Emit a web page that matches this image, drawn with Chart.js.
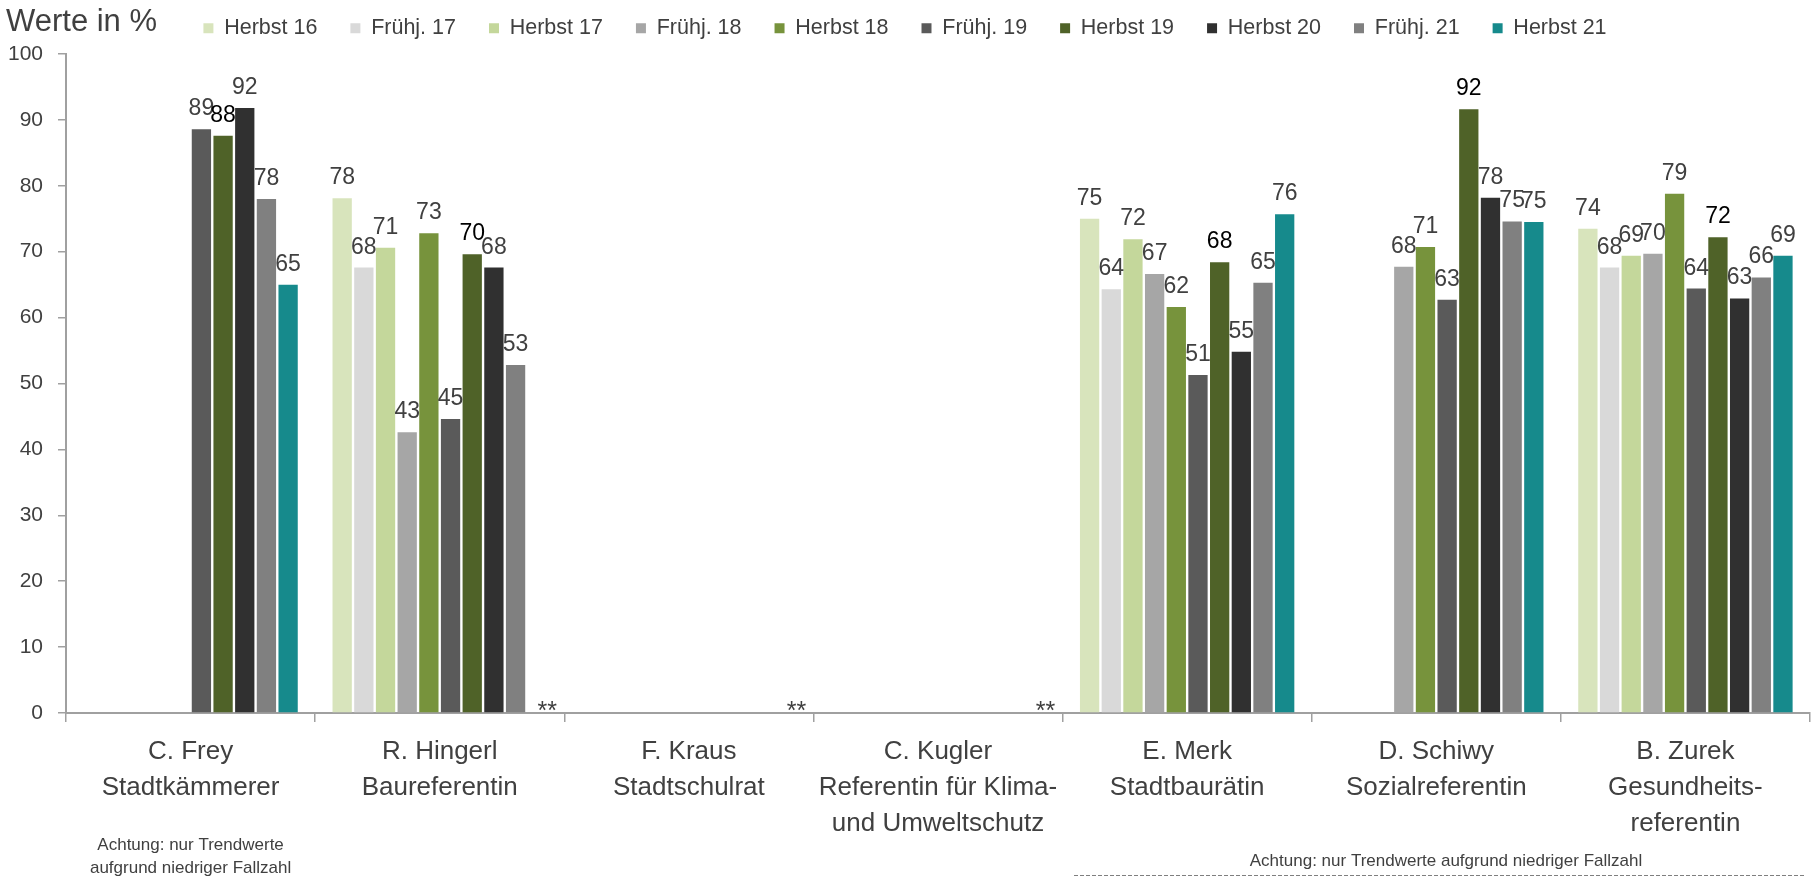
<!DOCTYPE html>
<html>
<head>
<meta charset="utf-8">
<title>Bekanntheit Referentinnen und Referenten</title>
<script src="https://cdn.jsdelivr.net/npm/chart.js@4.4.1/dist/chart.umd.min.js"></script>
<style>
    html, body { margin: 0; padding: 0; background: #fff; }
    #wrap { position: relative; width: 1816px; height: 879px; }
</style>
</head>
<body>
<div id="wrap"><canvas id="chart"></canvas></div>
<script>
// ---- Data ------------------------------------------------------------
const categories = [
    ['C. Frey', 'Stadtkämmerer'],
    ['R. Hingerl', 'Baureferentin'],
    ['F. Kraus', 'Stadtschulrat'],
    ['C. Kugler', 'Referentin für Klima-', 'und Umweltschutz'],
    ['E. Merk', 'Stadtbaurätin'],
    ['D. Schiwy', 'Sozialreferentin'],
    ['B. Zurek', 'Gesundheits-', 'referentin']
];

const seriesNames = ['Herbst 16', 'Frühj. 17', 'Herbst 17', 'Frühj. 18', 'Herbst 18',
    'Frühj. 19', 'Herbst 19', 'Herbst 20', 'Frühj. 21', 'Herbst 21'];
const seriesColors = ['#d8e4bc', '#d9d9d9', '#c4d79b', '#a6a6a6', '#77933c',
    '#5a5a5a', '#4f6228', '#303030', '#808080', '#168a8c'];

// one array per survey wave, one value per person (null = no bar)
const herbst16 = [null, 78.1, null, null, 75.0, null, 73.5];
const fruehj17 = [null, 67.6, null, null, 64.3, null, 67.6];
const herbst17 = [null, 70.6, null, null, 71.9, null, 69.4];
const fruehj18 = [null, 42.6, null, null, 66.6, 67.7, 69.7];
const herbst18 = [null, 72.8, null, null, 61.6, 70.7, 78.8];
const fruehj19 = [88.6, 44.6, null, null, 51.3, 62.7, 64.4];
const herbst19 = [87.6, 69.6, null, null, 68.4, 91.6, 72.2];
const herbst20 = [91.8, 67.6, null, null, 54.8, 78.2, 62.9];
const fruehj21 = [78.0, 52.8, null, null, 65.3, 74.6, 66.1];
const herbst21 = [65.0, null, null, null, 75.7, 74.5, 69.4];

const seriesValues = [herbst16, fruehj17, herbst17, fruehj18, herbst18,
    fruehj19, herbst19, herbst20, fruehj21, herbst21];

const yMin = 0;
const yMax = 100;
const yStep = 10;

const axisTitle = 'Werte in %';
const noDataMark = '**';
const noDataCategories = [1, 2, 3];
const noteLeft = ['Achtung: nur Trendwerte', 'aufgrund niedriger Fallzahl'];
const noteRight = 'Achtung: nur Trendwerte aufgrund niedriger Fallzahl';

// ---- Styling -----------------------------------------------------------
const FONT = "'Liberation Sans', Arial, sans-serif";
const TEXT = '#404040';
const AXIS = '#a0a0a0';

Chart.defaults.font.family = FONT;
Chart.defaults.color = TEXT;

// Data labels above each bar (rounded like the source)
const valueLabels = {
    id: 'valueLabels',
    afterDatasetsDraw(chart) {
        const ctx = chart.ctx;
        ctx.save();
        ctx.font = `23px ${FONT}`;
        ctx.textAlign = 'center';
        ctx.textBaseline = 'alphabetic';
        chart.data.datasets.forEach((ds, di) => {
            const meta = chart.getDatasetMeta(di);
            ctx.fillStyle = seriesNames[di] === 'Herbst 19' ? '#000' : TEXT;
            meta.data.forEach((bar, i) => {
                const v = ds.data[i];
                if (v === null || v === undefined) return;
                ctx.fillText(String(Math.round(v)), bar.x, bar.y - 14);
            });
        });
        ctx.restore();
    }
};

// Axis title, "**" markers, footnotes
const chartNotes = {
    id: 'chartNotes',
    afterDraw(chart) {
        const ctx = chart.ctx;
        const x = chart.scales.x;
        const y = chart.scales.y;
        const catW = x.width / categories.length;
        ctx.save();
        ctx.fillStyle = TEXT;
        ctx.textBaseline = 'middle';
        ctx.textAlign = 'left';
        ctx.font = `31px ${FONT}`;
        ctx.fillText(axisTitle, 6, 22);

        ctx.textBaseline = 'alphabetic';
        ctx.textAlign = 'center';
        ctx.font = `25px ${FONT}`;
        noDataCategories.forEach(i => {
            ctx.fillText(noDataMark, x.getPixelForValue(i) + catW / 2 - 17, y.getPixelForValue(0) + 6);
        });

        ctx.font = `17px ${FONT}`;
        const c0 = x.getPixelForValue(0);
        ctx.fillText(noteLeft[0], c0, 850);
        ctx.fillText(noteLeft[1], c0, 873);
        ctx.fillText(noteRight, 1446, 866);

        ctx.strokeStyle = '#7f7f7f';
        ctx.lineWidth = 1;
        ctx.setLineDash([4, 2]);
        ctx.beginPath();
        ctx.moveTo(1074, 875.5);
        ctx.lineTo(1806, 875.5);
        ctx.stroke();
        ctx.restore();
    }
};

// a little extra room between legend and plot
const legendGap = {
    id: 'legendGap',
    beforeInit(chart) {
        const fit = chart.legend.fit;
        chart.legend.fit = function () { fit.call(this); this.height += 5; };
    }
};

new Chart(document.getElementById('chart'), {
    type: 'bar',
    data: {
        labels: categories,
        datasets: seriesNames.map((name, i) => ({
            label: name,
            data: seriesValues[i],
            backgroundColor: seriesColors[i],
            borderWidth: 0,
            categoryPercentage: 0.87,
            barPercentage: 0.89
        }))
    },
    options: {
        responsive: true,
        maintainAspectRatio: false,
        animation: false,
        devicePixelRatio: 1,
        layout: { padding: { top: -15.5, left: 0, right: 6, bottom: 0 } },
        plugins: {
            legend: {
                position: 'top',
                align: 'center',
                labels: {
                    boxWidth: 10, boxHeight: 10, padding: 33,
                    color: TEXT, font: { size: 21.5 }
                }
            },
            tooltip: { enabled: false }
        },
        scales: {
            x: {
                grid: { offset: true, drawOnChartArea: false, tickLength: 9, color: AXIS, lineWidth: 1.5 },
                border: { color: AXIS, width: 2 },
                ticks: { color: TEXT, font: { size: 26, lineHeight: 1.38 }, padding: 12, maxRotation: 0, autoSkip: false },
                afterFit: s => { s.height = 166; }
            },
            y: {
                min: yMin, max: yMax,
                grid: { drawOnChartArea: false, tickLength: 8, color: AXIS, lineWidth: 1.5 },
                border: { color: AXIS, width: 2 },
                ticks: { stepSize: yStep, color: TEXT, font: { size: 21 }, padding: 15 },
                afterFit: s => { s.width = 66; }
            }
        }
    },
    plugins: [valueLabels, chartNotes, legendGap]
});
</script>
</body>
</html>
